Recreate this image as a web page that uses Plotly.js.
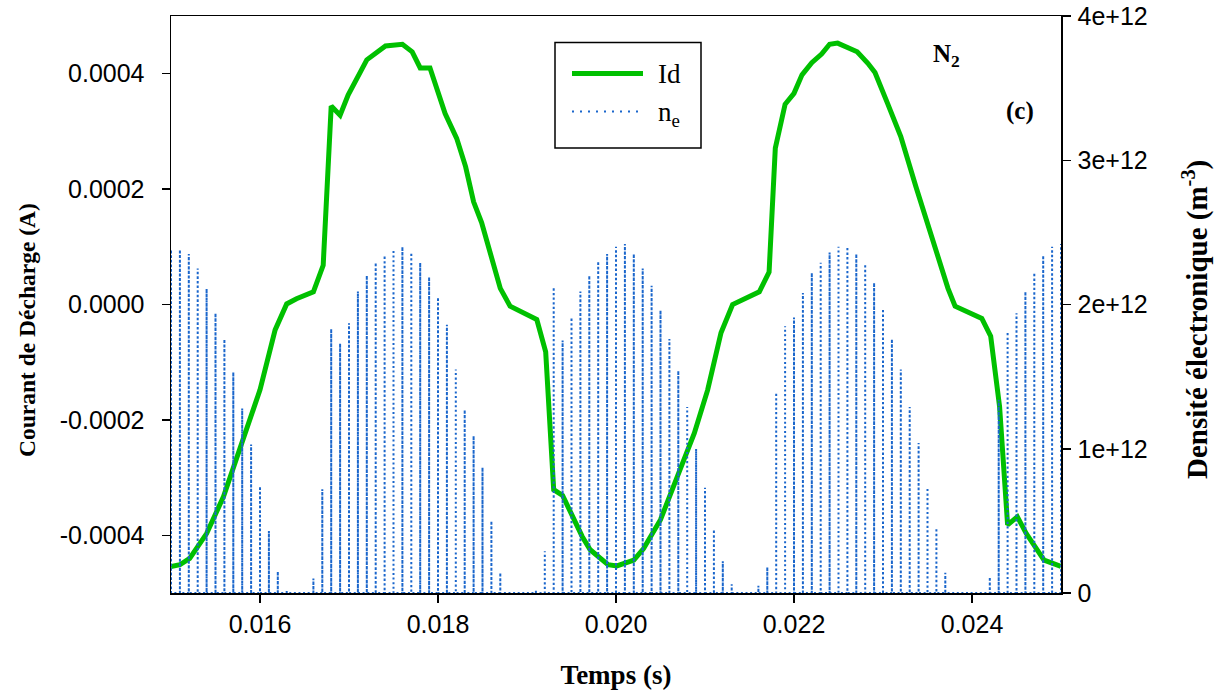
<!DOCTYPE html>
<html>
<head>
<meta charset="utf-8">
<script src="https://cdn.plot.ly/plotly-3.0.1.min.js"></script>
<style>html,body{margin:0;padding:0;background:#fff;}#chart{width:1218px;height:690px;}</style>
</head>
<body>
<div id="chart"></div>
<script>
// ---- Data ----
// Discharge current Id (A) vs time (s)
const id_time = [0.01500,0.01510,0.01521,0.01540,0.01559,0.01581,0.01600,0.01617,0.01630,0.01641,0.01660,0.01671,0.01680,0.01690,0.01699,0.01720,0.01741,0.01760,0.01771,0.01780,0.01791,0.01808,0.01821,0.01831,0.01840,0.01849,0.01870,0.01881,0.01911,0.01921,0.01930,0.01940,0.01951,0.01962,0.01971,0.01991,0.02001,0.02020,0.02031,0.02050,0.02069,0.02088,0.02103,0.02118,0.02131,0.02148,0.02161,0.02172,0.02179,0.02190,0.02200,0.02209,0.02220,0.02231,0.02240,0.02249,0.02271,0.02283,0.02291,0.02305,0.02320,0.02337,0.02354,0.02373,0.02381,0.02411,0.02421,0.02431,0.02440,0.02451,0.02461,0.02470,0.02481,0.02500];
const id_value = [-0.000454,-0.000451,-0.000440,-0.000397,-0.000333,-0.000235,-0.000148,-0.000044,0.000001,0.000010,0.000022,0.000068,0.000344,0.000328,0.000363,0.000424,0.000448,0.000451,0.000438,0.000410,0.000410,0.000331,0.000288,0.000239,0.000178,0.000142,0.000028,-0.000003,-0.000026,-0.000082,-0.000321,-0.000331,-0.000368,-0.000402,-0.000425,-0.000451,-0.000453,-0.000443,-0.000423,-0.000373,-0.000298,-0.000223,-0.000148,-0.000049,0.000000,0.000013,0.000022,0.000056,0.000271,0.000347,0.000366,0.000398,0.000419,0.000434,0.000451,0.000453,0.000438,0.000418,0.000402,0.000349,0.000291,0.000204,0.000118,0.000028,-0.000003,-0.000024,-0.000055,-0.000177,-0.000382,-0.000368,-0.000397,-0.000417,-0.000443,-0.000454];

// Electron density pulses: time of each pulse (s) and its peak (m^-3)
const ne_time = [0.0150,0.0151,0.0152,0.0153,0.0154,0.0155,0.0156,0.0157,0.0158,0.0159,
                 0.0160,0.0161,0.0162,0.0163,0.0164,0.0165,0.0166,0.0167,0.0168,0.0169,
                 0.0170,0.0171,0.0172,0.0173,0.0174,0.0175,0.0176,0.0177,0.0178,0.0179,
                 0.0180,0.0181,0.0182,0.0183,0.0184,0.0185,0.0186,0.0187,0.0188,0.0189,
                 0.0190,0.0191,0.0192,0.0193,0.0194,0.0195,0.0196,0.0197,0.0198,0.0199,
                 0.0200,0.0201,0.0202,0.0203,0.0204,0.0205,0.0206,0.0207,0.0208,0.0209,
                 0.0210,0.0211,0.0212,0.0213,0.0214,0.0215,0.0216,0.0217,0.0218,0.0219,
                 0.0220,0.0221,0.0222,0.0223,0.0224,0.0225,0.0226,0.0227,0.0228,0.0229,
                 0.0230,0.0231,0.0232,0.0233,0.0234,0.0235,0.0236,0.0237,0.0238,0.0239,
                 0.0240,0.0241,0.0242,0.0243,0.0244,0.0245,0.0246,0.0247,0.0248,0.0249,
                 0.0250];
const ne_peak = [2.38e12,2.38e12,2.35e12,2.25e12,2.11e12,1.94e12,1.76e12,1.53e12,1.28e12,1.03e12,
                 0.74e12,0.43e12,0.15e12,0.02e12,0,0,0.10e12,0.72e12,1.83e12,1.73e12,
                 1.87e12,2.09e12,2.20e12,2.29e12,2.34e12,2.38e12,2.40e12,2.36e12,2.29e12,2.19e12,
                 2.05e12,1.86e12,1.55e12,1.27e12,1.09e12,0.87e12,0.50e12,0.14e12,0,0,
                 0,0.02e12,0.29e12,2.12e12,1.75e12,1.91e12,2.09e12,2.20e12,2.30e12,2.35e12,
                 2.40e12,2.42e12,2.35e12,2.25e12,2.13e12,1.96e12,1.76e12,1.54e12,1.29e12,1.00e12,
                 0.73e12,0.44e12,0.22e12,0.06e12,0,0,0.05e12,0.18e12,1.39e12,1.85e12,
                 1.91e12,2.08e12,2.22e12,2.29e12,2.36e12,2.40e12,2.40e12,2.35e12,2.28e12,2.15e12,
                 1.97e12,1.76e12,1.55e12,1.29e12,1.04e12,0.73e12,0.45e12,0.14e12,0,0,
                 0,0,0.11e12,1.34e12,1.81e12,1.94e12,2.09e12,2.22e12,2.34e12,2.40e12,
                 2.42e12];

const x_tickvals = [0.016,0.018,0.020,0.022,0.024];
const x_ticktext = ["0.016","0.018","0.020","0.022","0.024"];
const y_tickvals = [-0.0004,-0.0002,0,0.0002,0.0004];
const y_ticktext = ["-0.0004","-0.0002","0.0000","0.0002","0.0004"];
const y2_tickvals = [0,1e12,2e12,3e12,4e12];
const y2_ticktext = ["0","1e+12","2e+12","3e+12","4e+12"];

// ---- Build pulse line (each pulse rises from and returns to the baseline) ----
const neX = [], neY = [];
for (let i = 0; i < ne_time.length; i++) {
  neX.push(ne_time[i], ne_time[i], ne_time[i]);
  neY.push(0, ne_peak[i], 0);
}

const GREEN = '#00c000';
const BLUE = '#1a66cc';
const SERIF = 'Liberation Serif, Times New Roman, serif';
const SANS = 'Liberation Sans, Arial, sans-serif';

const traces = [
  {x: neX, y: neY, yaxis: 'y2', mode: 'lines', name: 'n<sub>e</sub>',
   line: {color: BLUE, width: 2, dash: '2px,2.6px'}, hoverinfo: 'skip'},
  {x: id_time, y: id_value, mode: 'lines', name: 'Id',
   line: {color: GREEN, width: 5}}
];

function px(x){ return (x-171)/890; }
function py(y){ return (593-y)/577; }

const layout = {
  width: 1218, height: 690, autosize: false,
  margin: {l: 171, r: 157, t: 16, b: 97, pad: 0},
  paper_bgcolor: '#fff', plot_bgcolor: '#fff',
  showlegend: false,
  xaxis: {
    range: [0.015, 0.025], tickvals: x_tickvals, ticktext: x_ticktext,
    ticks: 'outside', ticklen: 8, tickwidth: 1.5, tickcolor: '#000',
    showline: true, linewidth: 1.5, linecolor: '#000', mirror: true,
    showgrid: false, zeroline: false, ticklabelstandoff: 0,
    tickfont: {family: SANS, size: 25, color: '#000'},
    title: {text: '<b>Temps (s)</b>', font: {family: SERIF, size: 27, color: '#000'}, standoff: 30}
  },
  yaxis: {
    range: [-0.0005, 0.0005], tickvals: y_tickvals, ticktext: y_ticktext,
    ticks: 'outside', ticklen: 8, tickwidth: 1.5, tickcolor: '#000',
    showline: true, linewidth: 1.5, linecolor: '#000',
    showgrid: false, zeroline: false, ticklabelstandoff: 12,
    tickfont: {family: SANS, size: 25, color: '#000'}
  },
  yaxis2: {
    overlaying: 'y', side: 'right',
    range: [0, 4e12], tickvals: y2_tickvals, ticktext: y2_ticktext,
    ticks: 'outside', ticklen: 8, tickwidth: 1.5, tickcolor: '#000',
    showline: true, linewidth: 1.5, linecolor: '#000',
    showgrid: false, zeroline: false, ticklabelstandoff: 2,
    tickfont: {family: SANS, size: 25, color: '#000'}
  },
  shapes: [
    {type: 'rect', xref: 'paper', yref: 'paper', x0: px(555), x1: px(701), y0: py(148), y1: py(42.5),
     line: {color: '#000', width: 1.5}, fillcolor: 'rgba(255,255,255,0)'},
    {type: 'line', xref: 'paper', yref: 'paper', x0: px(572), x1: px(643), y0: py(73.5), y1: py(73.5),
     line: {color: GREEN, width: 5}},
    {type: 'line', xref: 'paper', yref: 'paper', x0: px(572), x1: px(640), y0: py(111.5), y1: py(111.5),
     line: {color: BLUE, width: 2, dash: '2px,6px'}}
  ],
  annotations: [
    {xref: 'paper', yref: 'paper', x: px(27), y: py(330), xanchor: 'center', yanchor: 'middle', textangle: -90,
     text: '<b>Courant de Décharge (A)</b>', showarrow: false, font: {family: SERIF, size: 23.5, color: '#000'}},
    {xref: 'paper', yref: 'paper', x: px(1195), y: py(320), xanchor: 'center', yanchor: 'middle', textangle: -90,
     text: '<b>Densité électronique (m<sup>-3</sup>)</b>', showarrow: false, font: {family: SERIF, size: 29, color: '#000'}},
    {xref: 'paper', yref: 'paper', x: px(656), y: py(74), xanchor: 'left', yanchor: 'middle',
     text: 'Id', showarrow: false, font: {family: SERIF, size: 27, color: '#000'}},
    {xref: 'paper', yref: 'paper', x: px(656), y: py(114), xanchor: 'left', yanchor: 'middle',
     text: 'n<sub>e</sub>', showarrow: false, font: {family: SERIF, size: 27, color: '#000'}},
    {xref: 'paper', yref: 'paper', x: px(946), y: py(56), xanchor: 'center', yanchor: 'middle',
     text: '<b>N<sub>2</sub></b>', showarrow: false, font: {family: SERIF, size: 25, color: '#000'}},
    {xref: 'paper', yref: 'paper', x: px(1020), y: py(111), xanchor: 'center', yanchor: 'middle',
     text: '<b>(c)</b>', showarrow: false, font: {family: SERIF, size: 25, color: '#000'}}
  ]
};

Plotly.newPlot('chart', traces, layout, {displayModeBar: false, staticPlot: true});
</script>
</body>
</html>
